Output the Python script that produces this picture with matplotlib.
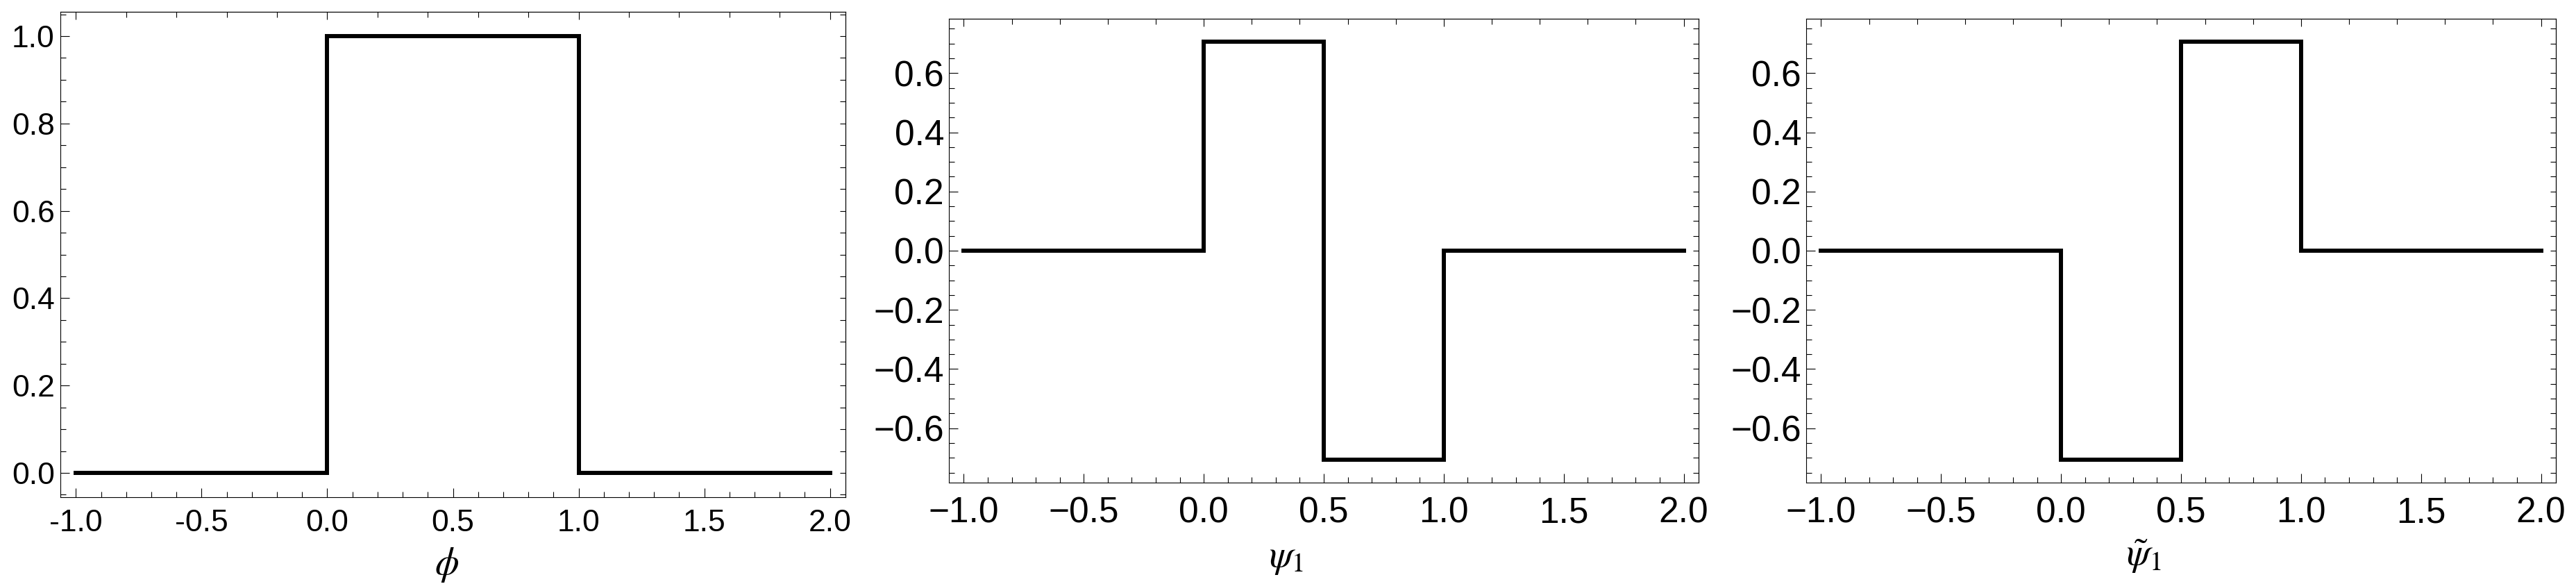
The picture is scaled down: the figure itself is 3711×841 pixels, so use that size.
import numpy as np
import matplotlib
matplotlib.use("Agg")
import matplotlib.pyplot as plt
from matplotlib.ticker import MultipleLocator, NullFormatter

plt.rcParams["font.family"] = ["Liberation Sans", "DejaVu Sans"]
plt.rcParams["mathtext.fontset"] = "stix"

# step functions: bin edges and constant level in each bin
phi_edges = [-1.0, 0.0, 1.0, 2.0]
phi_levels = [0.0, 1.0, 0.0]

psi_edges = [-1.0, 0.0, 0.5, 1.0, 2.0]
psi_levels = [0.0, 0.7071, -0.7071, 0.0]

psit_edges = [-1.0, 0.0, 0.5, 1.0, 2.0]
psit_levels = [0.0, -0.7071, 0.7071, 0.0]

xlabels = [r"$\phi$", r"$\psi_1$", r"$\tilde{\psi}_1$"]

W, H = 3711, 841
fig = plt.figure(figsize=(W / 100, H / 100), dpi=100)


def px_axes(left, right, top, bottom):
    return fig.add_axes([left / W, 1 - bottom / H, (right - left) / W, (bottom - top) / H])


def style(ax, ylim, fs, xpad, ypad, minus):
    fmt = plt.FuncFormatter(lambda v, p: f"{v:.1f}".replace("-", minus))
    ax.set_xlim(-1.062, 2.062)
    ax.set_ylim(*ylim)
    ax.xaxis.set_major_locator(MultipleLocator(0.5))
    ax.xaxis.set_minor_locator(MultipleLocator(0.1))
    ax.yaxis.set_major_locator(MultipleLocator(0.2))
    ax.yaxis.set_minor_locator(MultipleLocator(0.05))
    ax.xaxis.set_major_formatter(fmt)
    ax.yaxis.set_major_formatter(fmt)
    ax.tick_params(which="both", direction="in", width=0.8, top=False, right=False)
    ax.tick_params(which="major", length=9.5, labelsize=fs)
    ax.tick_params(which="minor", length=5.8)
    ax.tick_params(axis="x", which="major", pad=xpad)
    ax.tick_params(axis="y", which="major", pad=ypad)
    for s in ax.spines.values():
        s.set_linewidth(0.8)

    # top frame: major at integers, minor every 0.2
    top = ax.secondary_xaxis("top")
    top.xaxis.set_major_locator(MultipleLocator(1.0))
    top.xaxis.set_minor_locator(MultipleLocator(0.2))
    top.xaxis.set_major_formatter(NullFormatter())
    top.tick_params(which="both", direction="in", width=0.8)
    top.tick_params(which="major", length=8)
    top.tick_params(which="minor", length=5.8)
    top.spines["top"].set_linewidth(0.8)

    # right frame: short ticks every 0.05
    rt = ax.secondary_yaxis("right")
    rt.yaxis.set_major_locator(MultipleLocator(0.05))
    rt.yaxis.set_major_formatter(NullFormatter())
    rt.tick_params(which="both", direction="in", width=0.8, length=5.8)
    rt.spines["right"].set_linewidth(0.8)


ax1 = px_axes(87, 1218, 17, 716)
ax2 = px_axes(1367, 2447, 27, 695)
ax3 = px_axes(2602, 3682, 27, 695)

style(ax1, (-0.0556, 1.0556), 32, 12, 6, "-")
style(ax2, (-0.784, 0.784), 37, 14, 5, "\u2212")
style(ax3, (-0.784, 0.784), 37, 14, 5, "\u2212")

for ax, edges, levels, lab, lx, ly in [
    (ax1, phi_edges, phi_levels, xlabels[0], 0.492, -0.1),
    (ax2, psi_edges, psi_levels, xlabels[1], 0.45, -0.125),
    (ax3, psit_edges, psit_levels, xlabels[2], 0.45, -0.118),
]:
    st = ax.stairs(levels, edges, baseline=None, color="black", linewidth=4.3)
    st.set_joinstyle("miter")
    st.set_capstyle("projecting")
    ax.set_xlabel(lab, fontsize=40)
    ax.xaxis.set_label_coords(lx, ly)
    ax.xaxis.label.set_va("top")

fig.savefig("out.png", dpi=100)
